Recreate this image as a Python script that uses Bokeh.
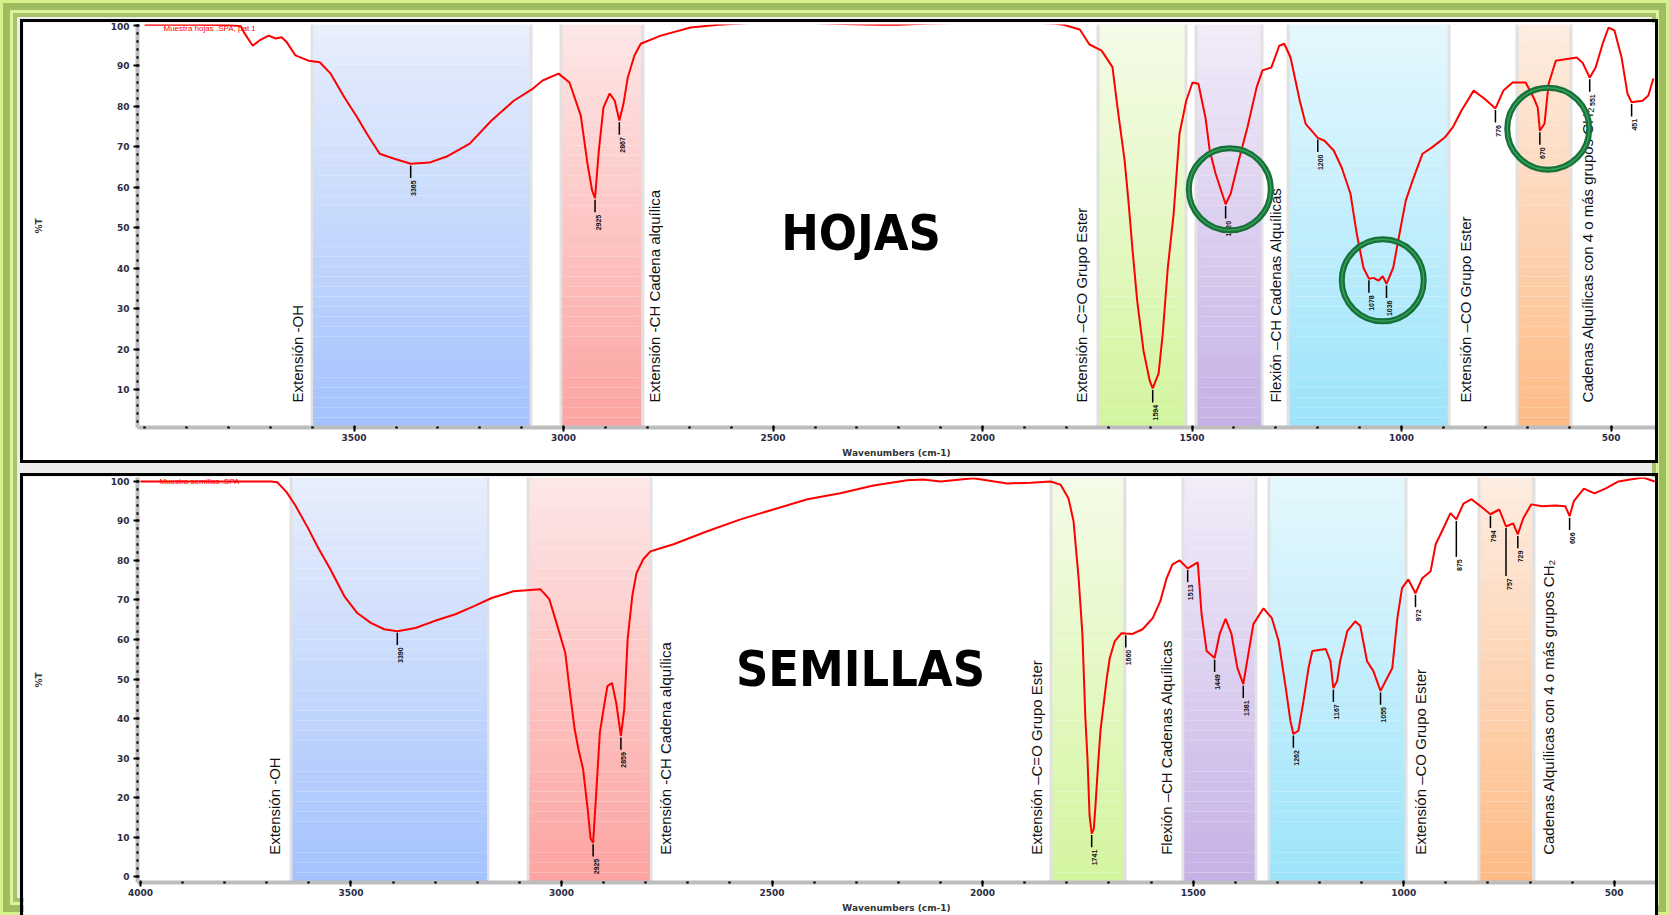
import math
from bokeh.plotting import figure
from bokeh.layouts import column
from bokeh.models import Range1d, FixedTicker, ColumnDataSource
from bokeh.core.properties import value
from bokeh.embed import file_html
from bokeh.resources import INLINE

# ---------------- espectro FTIR de hojas ----------------
hojas_cm = [4000, 3900, 3800, 3770, 3763, 3742, 3726, 3704, 3687, 3673, 3661, 3640, 3609, 3582,
            3556, 3523, 3492, 3470, 3439, 3406, 3365, 3320, 3279, 3224, 3172, 3119, 3076, 3050,
            3012, 2986, 2959, 2943, 2932, 2925, 2916, 2905, 2890, 2878, 2867, 2857, 2847, 2831,
            2816, 2768, 2697, 2630, 2560, 2480, 2400, 2330, 2250, 2200, 2130, 2000, 1900, 1830,
            1807, 1768, 1745, 1716, 1690, 1678, 1661, 1652, 1642, 1631, 1616, 1601, 1594, 1580,
            1570, 1558, 1544, 1530, 1514, 1499, 1485, 1468, 1458, 1444, 1420, 1408, 1387, 1368,
            1346, 1332, 1311, 1292, 1280, 1265, 1243, 1229, 1200, 1184, 1162, 1143, 1122, 1107,
            1091, 1078, 1067, 1055, 1045, 1036, 1020, 1005, 990, 974, 950, 928, 897, 878, 857,
            828, 802, 776, 757, 735, 704, 685, 675, 670, 659, 649, 632, 582, 568, 551, 537, 520,
            506, 492, 475, 461, 451, 425, 411, 399]
hojas_t = [100.2, 100.2, 100.1, 99.8, 98.3, 95.0, 96.3, 97.5, 96.8, 97.1, 95.9, 92.6, 91.3, 90.9,
           88.1, 82.2, 77.2, 73.3, 68.3, 67.1, 65.8, 66.1, 67.6, 70.8, 76.5, 81.4, 84.2, 86.4,
           88.1, 85.9, 77.7, 65.8, 59.2, 57.3, 69.0, 79.7, 83.2, 81.4, 76.5, 80.7, 87.1, 92.6,
           95.5, 97.5, 99.5, 100.2, 100.6, 100.8, 100.6, 100.4, 100.2, 100.2, 100.5, 100.8, 100.8, 100.5,
           100.2, 99.0, 95.3, 93.8, 89.7, 79.7, 66.6, 56.7, 44.3, 31.9, 19.6, 12.1, 10.3, 13.9,
           23.8, 40.1, 53.5, 73.3, 81.4, 85.9, 85.6, 77.2, 69.1, 63.4, 55.8, 58.4, 67.3, 74.8,
           84.7, 88.9, 89.6, 95.0, 95.5, 92.1, 81.4, 75.7, 72.2, 71.5, 69.1, 64.9, 58.4, 48.5,
           40.1, 37.4, 37.6, 36.9, 38.0, 36.1, 40.1, 48.5, 56.7, 61.6, 68.3, 69.8, 72.3, 74.8, 79.0,
           83.9, 81.9, 79.5, 83.9, 85.9, 85.9, 82.2, 79.7, 74.0, 75.7, 85.6, 91.3, 92.1, 90.8, 87.1, 89.6, 95.5,
           99.5, 98.8, 92.1, 83.2, 81.0, 81.4, 82.7, 86.9]

hojas_picos_cm = [3365, 2925, 2867, 1594, 1420, 1200, 1078, 1036, 776, 670, 551, 451]
hojas_picos_t = [65.8, 57.3, 76.5, 10.3, 55.8, 72.2, 37.4, 36.1, 79.5, 74.0, 87.1, 81.0]

# bandas resaltadas con círculos
hojas_marcas_cm = [1410, 1045, 650]
hojas_marcas_t = [59.5, 37.0, 74.5]

# ---------------- espectro FTIR de semillas ----------------
semillas_cm = [4000, 3800, 3690, 3675, 3653, 3632, 3601, 3580, 3549, 3516, 3485, 3453, 3421, 3390,
               3347, 3304, 3252, 3209, 3166, 3114, 3050, 3029, 3012, 2991, 2981, 2969, 2960, 2949,
               2938, 2931, 2925, 2917, 2909, 2899, 2891, 2880, 2870, 2859, 2851, 2843, 2832, 2822,
               2806, 2789, 2765, 2734, 2654, 2575, 2497, 2416, 2338, 2259, 2179, 2141, 2100, 2022,
               1941, 1886, 1839, 1815, 1796, 1784, 1772, 1763, 1756, 1751, 1746, 1741, 1736, 1732,
               1726, 1720, 1705, 1698, 1686, 1670, 1660, 1644, 1620, 1596, 1578, 1563, 1549, 1532,
               1513, 1489, 1480, 1468, 1449, 1437, 1423, 1409, 1395, 1381, 1369, 1357, 1333, 1313,
               1297, 1280, 1269, 1262, 1250, 1238, 1226, 1217, 1185, 1174, 1167, 1158, 1151, 1134,
               1115, 1103, 1087, 1072, 1055, 1039, 1027, 1015, 1004, 989, 972, 956, 936, 924, 906,
               889, 875, 858, 839, 817, 794, 773, 757, 740, 729, 716, 697, 671, 640, 616, 606, 596,
               572, 547, 521, 490, 462, 431, 404]
semillas_t = [100.0, 100.0, 100.0, 99.8, 97.3, 93.9, 88.0, 83.6, 77.8, 71.0, 66.7, 64.2, 62.6, 62.1,
              62.9, 64.6, 66.4, 68.4, 70.5, 72.2, 72.7, 70.2, 64.2, 56.6, 47.5, 37.4, 32.3, 27.3,
              17.2, 9.6, 8.6, 22.2, 36.4, 43.2, 48.2, 49.0, 43.9, 35.6, 42.4, 60.1, 71.0, 76.8,
              80.3, 82.3, 83.1, 84.1, 87.4, 90.4, 92.9, 95.5, 97.0, 99.0, 100.3, 100.5, 100.0, 100.8,
              99.5, 99.7, 100.0, 99.2, 95.7, 89.9, 75.5, 61.4, 40.2, 30.0, 15.4, 10.9, 12.0, 17.9,
              28.0, 37.0, 50.3, 55.3, 59.6, 61.6, 61.5, 61.4, 62.6, 65.4, 69.7, 75.5, 79.0, 80.0,
              78.0, 79.5, 66.4, 57.1, 55.3, 61.4, 65.2, 61.4, 52.8, 48.7, 56.3, 63.9, 67.9, 65.4,
              59.6, 47.7, 39.4, 36.1, 36.9, 44.4, 52.8, 57.1, 57.6, 54.5, 47.7, 49.5, 54.5, 62.1,
              64.6, 63.4, 54.5, 52.0, 47.0, 50.3, 52.8, 65.4, 73.0, 75.2, 71.7, 75.5, 77.3, 84.1, 88.1,
              92.0, 90.4, 94.4, 95.5, 93.7, 91.7, 92.9, 88.6, 89.4, 86.6, 90.7, 94.2, 93.7, 93.9, 93.7, 91.2, 95.0,
              98.2, 97.0, 98.2, 100.0, 100.5, 101.0, 100.0]

semillas_picos_cm = [3390, 2925, 2859, 1741, 1660, 1513, 1449, 1381, 1262, 1167, 1055, 972, 875,
                     794, 757, 729, 606]
semillas_picos_t = [62.1, 8.6, 35.6, 10.9, 61.5, 78.0, 55.3, 48.7, 36.1, 47.7, 47.0, 71.7, 90.4,
                    91.7, 88.6, 86.6, 91.2]

# ---------------- regiones de asignación (cm-1) ----------------
grupos = ["Extensión -OH", "Extensión -CH Cadena alquílica", "Extensión –C=O Grupo Ester",
          "Flexión –CH Cadenas Alquílicas", "Extensión –CO Grupo Ester",
          "Cadenas Alquílicas con 4 o más grupos CH₂"]
hojas_desde = [3598, 3003, 1721, 1487, 1267, 721]
hojas_hasta = [3081, 2815, 1518, 1336, 890, 599]
hojas_rotulo_cm = [3635, 2783, 1764, 1301, 847, 556]
semillas_desde = [3639, 3076, 1834, 1521, 1317, 818]
semillas_hasta = [3177, 2790, 1666, 1354, 998, 695]
semillas_rotulo_cm = [3682, 2753, 1872, 1564, 960, 656]

# ---------------- ejes ----------------
ticks_x_hojas = [3500, 3000, 2500, 2000, 1500, 1000, 500]
ticks_x_semillas = [4000, 3500, 3000, 2500, 2000, 1500, 1000, 500]
ticks_y_hojas = [10, 20, 30, 40, 50, 60, 70, 80, 90, 100]
ticks_y_semillas = [0, 10, 20, 30, 40, 50, 60, 70, 80, 90, 100]

# colores de las bandas (arriba, abajo)
colores_banda = [("#e7eefc", "#a4c2fd"), ("#fde6e6", "#fca4a2"), ("#f4fbe7", "#d3f59e"),
                 ("#f1ecf8", "#c6b1e6"), ("#e4f7fd", "#9de4fb"), ("#fdece0", "#fdbb86")]

FUENTE = "Liberation Sans"
FUENTE_TITULO = "'Liberation Sans Narrow', 'DejaVu Sans Condensed', sans-serif"


def mezcla(c0, c1, t):
    a = [int(c0[i:i + 2], 16) for i in (1, 3, 5)]
    b = [int(c1[i:i + 2], 16) for i in (1, 3, 5)]
    return "#%02x%02x%02x" % tuple(round(a[k] + (b[k] - a[k]) * t) for k in range(3))


def panel(nombre, nombre_t, titulo, cm, t, desde, hasta, rotulo_cm, rot_y, picos_cm, picos_t,
          guias, ticks_x, ticks_y, xr, yr, alto, borde_sup):
    p = figure(width=1632, height=alto, x_range=Range1d(*xr), y_range=Range1d(*yr),
               output_backend="svg", toolbar_location=None,
               min_border_left=114, min_border_right=0, min_border_top=borde_sup,
               min_border_bottom=33, background_fill_color="white",
               border_fill_color="white", outline_line_color=None)
    p.grid.visible = False
    p.styles = {"box-shadow": "0 0 0 3px #000000"}

    # sombras suaves en los bordes de las bandas
    p.vspan(x=desde + hasta, line_width=6, line_color="#a8a8a8", line_alpha=0.35)

    # bandas con degradado vertical
    n = 40
    y0, y1 = yr
    izq, der, inf, sup, col = [], [], [], [], []
    for k in range(len(desde)):
        arriba, abajo = colores_banda[k]
        for j in range(n):
            izq.append(desde[k])
            der.append(hasta[k])
            inf.append(y0 + (y1 - y0) * j / n)
            sup.append(y0 + (y1 - y0) * (j + 1) / n)
            col.append(mezcla(abajo, arriba, j / (n - 1)))
    p.quad(left="l", right="r", bottom="b", top="t", fill_color="c", line_color=None,
           source=ColumnDataSource(dict(l=izq, r=der, b=inf, t=sup, c=col)))

    # rótulos de los grupos funcionales
    p.text(x=rotulo_cm, y=[rot_y] * len(grupos), text=grupos, angle=math.pi / 2,
           text_align="left", text_baseline="middle", text_font=value(FUENTE),
           text_font_size="15px", text_color="#111111")

    # nombre de la muestra
    p.text(x=[2290], y=[nombre_t], text=[nombre], text_align="center", text_baseline="middle",
           text_font=value(FUENTE_TITULO), text_font_style="bold", text_font_size="50px",
           text_color="black")

    # espectro
    p.line(cm, t, line_color="#ff0000", line_width=2)

    # marcas de picos
    largo = [guias.get(c, 3.5) for c in picos_cm]
    p.segment(x0=picos_cm, y0=[v - 0.4 for v in picos_t], x1=picos_cm,
              y1=[v - g for v, g in zip(picos_t, largo)], line_color="black", line_width=1.5)
    p.text(x=picos_cm, y=[v - g - 0.6 for v, g in zip(picos_t, largo)],
           text=[str(c) for c in picos_cm], angle=math.pi / 2, text_align="right",
           text_baseline="middle", x_offset=3, text_font=value(FUENTE),
           text_font_style="bold", text_font_size="7px", text_color="#111111")

    # título del archivo
    p.text(x=[3955], y=[yr[1] - 1.1], text=[titulo], text_align="left",
           text_baseline="middle", text_font=value(FUENTE), text_font_size="8px",
           text_color="#ff0000")

    # ejes
    p.xaxis.ticker = FixedTicker(ticks=ticks_x, minor_ticks=list(range(500, 4001, 100)))
    p.yaxis.ticker = FixedTicker(ticks=ticks_y, minor_ticks=list(range(0, 101, 2)))
    p.xaxis.axis_label = "Wavenumbers (cm-1)"
    p.yaxis.axis_label = "%T"
    for ax in (p.xaxis, p.yaxis):
        ax.axis_line_color = "#bdbdbd"
        ax.axis_line_width = 4
        ax.major_tick_line_color = "black"
        ax.major_tick_line_width = 2
        ax.major_tick_in = 2
        ax.major_tick_out = 4
        ax.minor_tick_line_color = "black"
        ax.minor_tick_line_width = 2.5
        ax.minor_tick_in = 1
        ax.minor_tick_out = 1
        ax.major_label_text_font = "DejaVu Sans"
        ax.major_label_text_font_style = "bold"
        ax.major_label_text_font_size = "9px"
        ax.major_label_text_color = "#2b2b44"
        ax.axis_label_text_font = "DejaVu Sans"
        ax.axis_label_text_font_style = "bold"
        ax.axis_label_text_font_size = "9px"
        ax.axis_label_text_color = "#333333"
    p.xaxis.major_label_standoff = 2
    p.xaxis.axis_label_standoff = 4
    p.yaxis.major_label_standoff = 4
    p.yaxis.axis_label_standoff = 64
    return p


p1 = panel("HOJAS", 48.6, "Muestra hojas .SPA, pat 1", hojas_cm, hojas_t, hojas_desde,
           hojas_hasta, hojas_rotulo_cm, 6.8, hojas_picos_cm, hojas_picos_t, {},
           ticks_x_hojas, ticks_y_hojas, (4017, 394), (0.6, 100.25), 438, 2)
p1.scatter(hojas_marcas_cm, hojas_marcas_t, marker="circle", size=82, fill_color=None,
           line_color="#17703a", line_width=6)
p1.scatter(hojas_marcas_cm, hojas_marcas_t, marker="circle", size=82, fill_color=None,
           line_color="#34a257", line_width=1.5)
p1.margin = (22, 0, 0, 23)

p2 = panel("SEMILLAS", 52.6, "Muestra semillas .SPA", semillas_cm, semillas_t, semillas_desde,
           semillas_hasta, semillas_rotulo_cm, 5.5, semillas_picos_cm, semillas_picos_t,
           {875: 9.5, 757: 12.5}, ticks_x_semillas, ticks_y_semillas, (4007, 402),
           (-1.5, 101.0), 439, 1)
p2.margin = (16, 0, 0, 23)

pagina = column(p1, p2, width=1669, height=915, spacing=0,
                styles={"background": "#ececec",
                        "box-shadow": "inset 0 0 0 3px #d7f08c, inset 0 0 0 10px #9fbd5e, "
                                      "inset 0 0 0 13px #dcf29c, inset 0 0 0 17px #a6c26a"})

open("out.html", "w").write(file_html(pagina, INLINE))
